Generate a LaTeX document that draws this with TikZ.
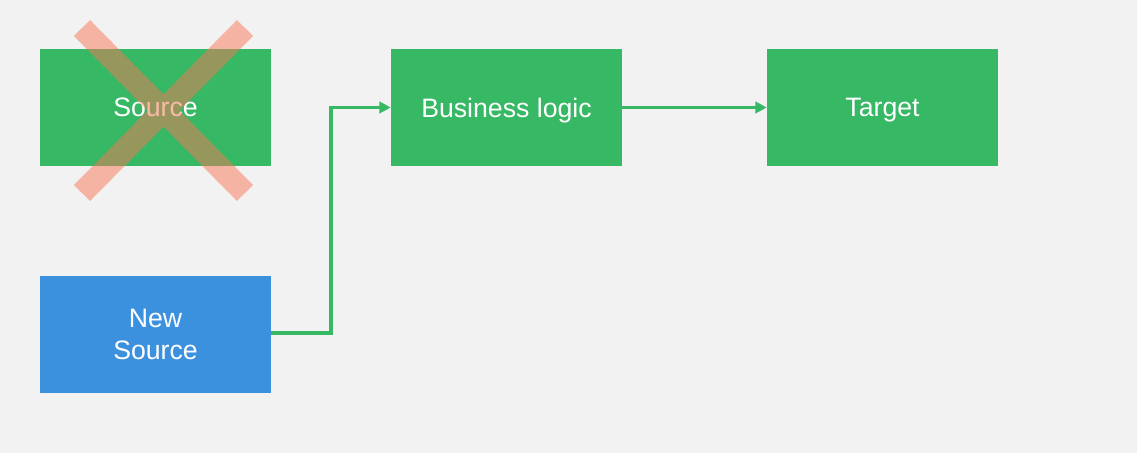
\documentclass[tikz,border=0pt]{standalone}
\usepackage{fontspec}
\setmainfont{Liberation Sans}
\usetikzlibrary{arrows.meta}
\definecolor{bg}{HTML}{F2F2F2}
\definecolor{boxgreen}{HTML}{36B864}
\definecolor{boxblue}{HTML}{3C91DE}
\definecolor{crosscol}{RGB}{248,117,86}
\tikzset{
  box/.style={draw=none, minimum width=231*0.75pt, minimum height=117*0.75pt, inner sep=0pt,
    text=white, align=center, text depth=0pt, font=\fontsize{20}{24}\selectfont},
  conn/.style={draw=boxgreen, line width=2.5pt, -{Triangle[length=8.5pt,width=8.5pt]}},
  crossline/.style={draw=crosscol, line width=17pt, line cap=butt}
}
\begin{document}
\begin{tikzpicture}[x=0.75pt,y=-0.75pt]
\useasboundingbox (0,0) rectangle (1137,453);
\fill[bg] (0,0) rectangle (1137,453);
\node[box, fill=boxgreen] (src) at (155.5,107.5) {Source};
\node[box, fill=boxgreen] (bl) at (506.5,107.5) {Business logic};
\node[box, fill=boxgreen] (tgt) at (882.5,107.5) {Target};
\node[box, fill=boxblue] (nsrc) at (155.5,334) {New\\Source};
\coordinate (bend) at (331,333);
\draw[conn] (nsrc.east |- bend) -- (bend) |- (bl.west);
\draw[conn] (bl.east) -- (tgt.west);
\coordinate (c1) at (82,28);
\coordinate (c2) at (245,193);
\coordinate (c3) at (245,28);
\coordinate (c4) at (82,193);
\begin{scope}[transparency group, opacity=0.5]
\draw[crossline] (c1) -- (c2);
\draw[crossline] (c3) -- (c4);
\end{scope}
\end{tikzpicture}
\end{document}
